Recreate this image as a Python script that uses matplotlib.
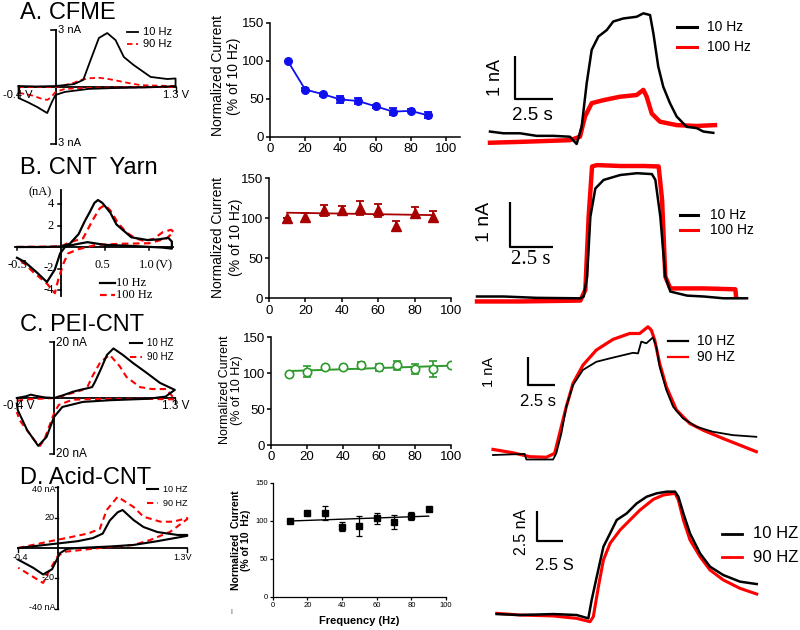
import numpy as np
import matplotlib
matplotlib.use("Agg")
import matplotlib.pyplot as plt
from matplotlib.lines import Line2D

plt.rcParams["font.family"] = ["Liberation Sans", "DejaVu Sans"]

# ---- cyclic voltammograms (V, nA), forward sweep then return sweep ----
cv_a_10 = [(-0.4, 0.05), (-0.2, 0.03), (0.0, 0.05), (0.2, 0.15), (0.3, 0.37), (0.38, 1.42),
           (0.47, 2.58), (0.56, 2.84), (0.65, 2.47), (0.74, 1.58), (0.845, 1.16), (1.03, 0.53),
           (1.21, 0.42), (1.3, 0.45), (1.3, 0.05), (1.0, -0.02), (0.6, -0.06), (0.36, -0.1),
           (0.1, -0.26), (0.0, -0.42), (-0.04, -0.8), (-0.09, -1.37), (-0.2, -1.05),
           (-0.3, -0.8), (-0.4, -0.58), (-0.4, 0.05)]
cv_a_90 = [(-0.4, 0.0), (0.0, 0.0), (0.1, 0.1), (0.2, 0.22), (0.27, 0.37), (0.37, 0.46),
           (0.46, 0.49), (0.55, 0.44), (0.67, 0.33), (0.8, 0.2), (0.92, 0.1), (1.1, 0.07),
           (1.3, 0.05), (1.3, 0.0), (0.8, -0.02), (0.4, -0.04), (0.1, -0.1), (0.0, -0.26),
           (-0.05, -0.55), (-0.09, -0.68), (-0.15, -0.62), (-0.25, -0.45), (-0.4, -0.3)]

cv_b_10 = [(-0.5, 0.0), (-0.2, 0.0), (0.0, 0.05), (0.1, 0.3), (0.2, 1.2), (0.27, 2.4),
           (0.33, 3.3), (0.38, 4.1), (0.42, 4.37), (0.47, 4.1), (0.56, 3.2), (0.63, 2.1),
           (0.7, 1.6), (0.8, 0.9), (0.98, 0.65), (1.1, 0.7), (1.22, 0.85), (1.26, 0.5),
           (1.26, -0.15), (1.15, -0.05), (0.8, 0.1), (0.5, 0.2), (0.3, 0.45), (0.2, 0.3),
           (0.05, 0.05), (-0.01, -0.6), (-0.07, -2.1), (-0.16, -3.26), (-0.27, -2.4),
           (-0.41, -1.4), (-0.5, -1.0)]
cv_b_100 = [(-0.5, 0.0), (0.0, 0.05), (0.1, 0.45), (0.25, 0.8), (0.36, 2.5), (0.44, 3.6),
            (0.5, 3.9), (0.56, 3.4), (0.65, 2.2), (0.75, 1.3), (0.85, 0.8), (0.95, 0.55),
            (1.05, 0.75), (1.16, 1.4), (1.25, 1.6), (1.28, 1.4), (1.2, 0.8), (1.0, 0.35),
            (0.7, 0.3), (0.4, 0.2), (0.2, -0.2), (0.08, -0.6), (0.03, -1.5), (-0.03, -3.0),
            (-0.07, -4.3), (-0.12, -3.8), (-0.16, -3.4), (-0.32, -2.3), (-0.42, -1.5),
            (-0.5, -1.0)]

cv_c_10 = [(-0.4, 0.0), (-0.3, 0.6), (-0.25, 1.2), (-0.2, 0.8), (-0.1, 0.2), (0.0, 0.0),
           (0.1, 1.0), (0.2, 2.2), (0.28, 2.9), (0.35, 3.4), (0.41, 3.9), (0.44, 5.7),
           (0.5, 10.0), (0.57, 15.4), (0.64, 17.7), (0.74, 15.4), (0.85, 12.5), (1.0, 8.9),
           (1.14, 5.4), (1.3, 2.9), (1.2, 0.5), (1.0, -0.3), (0.6, -0.8), (0.31, -1.4),
           (0.09, -3.2), (0.0, -6.8), (-0.08, -13.9), (-0.17, -17.1), (-0.29, -11.4),
           (-0.39, -4.3), (-0.4, -2.0)]
cv_c_90 = [(-0.4, -1.0), (-0.3, -0.5), (0.0, 0.0), (0.1, 0.8), (0.2, 1.8), (0.3, 2.8),
           (0.36, 4.0), (0.42, 8.2), (0.5, 12.9), (0.6, 15.4), (0.71, 11.2), (0.78, 7.5),
           (0.925, 3.9), (1.05, 3.2), (1.21, 3.2), (1.3, -0.5), (1.0, -0.3), (0.5, -0.3),
           (0.2, -0.6), (0.05, -2.5), (0.0, -5.5), (-0.05, -10.0), (-0.1, -14.5),
           (-0.15, -17.1), (-0.2, -15.5), (-0.28, -12.0), (-0.37, -7.9), (-0.4, -5.0)]

cv_d_10 = [(-0.4, 0.0), (-0.2, 1.5), (0.0, 3.0), (0.2, 4.5), (0.35, 6.5), (0.45, 9.5),
           (0.52, 18.0), (0.6, 23.5), (0.65, 25.0), (0.76, 18.4), (0.86, 13.8), (1.0, 10.5),
           (1.2, 8.6), (1.3, 8.6), (1.3, 8.0), (1.0, 4.5), (0.76, 2.0), (0.52, 1.0),
           (0.2, 0.0), (0.09, -0.6), (0.02, -3.4), (-0.06, -14.0), (-0.15, -17.4),
           (-0.25, -13.0), (-0.4, -7.7)]
cv_d_90 = [(-0.4, 0.0), (0.0, 5.5), (0.08, 6.5), (0.3, 9.5), (0.42, 12.5), (0.49, 25.0),
           (0.6, 33.7), (0.76, 27.0), (0.86, 20.6), (1.03, 17.3), (1.16, 17.3), (1.3, 19.7),
           (1.3, 19.0), (1.13, 10.7), (0.93, 5.3), (0.76, 2.0), (0.42, 0.0), (0.08, -2.4),
           (0.0, -5.0), (-0.08, -14.0), (-0.15, -23.0), (-0.25, -19.0), (-0.4, -13.0)]

# ---- normalized current vs frequency ----
freq_9 = [10, 20, 30, 40, 50, 60, 70, 80, 90]
freq_10 = [10, 20, 30, 40, 50, 60, 70, 80, 90, 100]
norm_a = [100, 62, 56, 49, 47, 40, 33, 34, 28]
err_a = [0, 2, 2, 4, 4, 2, 5, 2, 4]
norm_b = [100, 102, 110, 110, 113, 110, 91, 107, 102]
err_b = [0, 5, 7, 6, 8.7, 8, 6, 7, 7]
fit_b = [107, 104]
norm_c = [99, 102, 108, 109, 111, 108, 111, 106, 106, 111]
err_c = [0, 7.5, 0, 0, 5, 5.5, 6, 7, 11, 0]
fit_c = [103, 110.5]
norm_d = [100, 110, 110, 92, 93, 103, 98, 106, 115]
err_d = [0, 0, 8.8, 6, 13, 7, 9, 5.5, 0]
fit_d = [99.6, 106]

# ---- time traces (s, nA) ----
tr_a_10 = [(0, 0.08), (0.88, 0.04), (1.97, 0.04), (3.07, -0.02), (4.17, -0.02), (5.26, -0.04),
           (5.70, -0.21), (6.03, 0.19), (6.36, 1.20), (6.69, 1.98), (7.13, 2.29), (7.68, 2.44),
           (8.11, 2.64), (8.77, 2.71), (9.65, 2.75), (10.09, 2.83), (10.53, 2.79),
           (10.75, 2.36), (11.07, 1.59), (11.40, 1.12), (11.84, 0.74), (12.28, 0.43),
           (12.94, 0.19), (13.60, 0.16), (14.04, 0.08), (14.69, 0.05)]
tr_a_100 = [(0, -0.18), (1.97, -0.16), (5.26, -0.12), (5.92, -0.04), (6.25, 0.43),
            (6.69, 0.74), (7.46, 0.81), (8.55, 0.89), (9.65, 0.93), (10.09, 1.05),
            (10.31, 0.89), (10.64, 0.50), (11.18, 0.31), (12.28, 0.23), (13.60, 0.21),
            (14.80, 0.23)]
tr_b_10 = [(0, 0.04), (1.55, 0.04), (3.49, 0.01), (6.01, 0.0), (6.20, 0.04), (6.40, 0.48),
           (6.59, 1.81), (6.88, 2.44), (7.36, 2.63), (8.33, 2.74), (9.30, 2.78), (10.17, 2.76),
           (10.37, 2.63), (10.66, 1.81), (10.95, 0.48), (11.24, 0.15), (12.21, 0.06),
           (13.18, 0.04), (14.34, 0.0), (15.70, 0.0)]
tr_b_100 = [(0, -0.07), (2.52, -0.07), (6.01, -0.05), (6.30, 0.19), (6.49, 1.81),
            (6.69, 2.93), (6.98, 2.96), (8.33, 2.94), (9.69, 2.94), (10.56, 2.93),
            (10.76, 2.19), (10.95, 0.48), (11.24, 0.22), (13.18, 0.22), (15.02, 0.20),
            (15.06, 0.04)]
tr_c_10 = [(0, 0.06), (2.93, 0.10), (3.09, -0.10), (5.56, -0.10), (5.86, 0.12), (6.33, 0.83),
           (6.79, 1.79), (7.41, 2.56), (8.33, 3.10), (9.57, 3.39), (10.80, 3.51),
           (12.96, 3.71), (13.43, 3.69), (13.73, 4.11), (14.20, 4.05), (14.81, 4.26),
           (15.12, 3.93), (15.43, 3.21), (16.05, 2.38), (16.67, 1.79), (17.59, 1.37),
           (18.83, 1.07), (20.37, 0.89), (22.22, 0.77), (24.38, 0.71)]
tr_c_90 = [(0, 0.26), (1.85, 0.14), (3.40, 0.0), (4.94, -0.02), (5.71, 0.12), (6.17, 0.83),
           (6.79, 1.79), (7.41, 2.62), (8.33, 3.27), (9.57, 3.81), (11.11, 4.19),
           (12.65, 4.40), (13.58, 4.40), (14.35, 4.64), (14.66, 4.52), (14.97, 4.17),
           (15.43, 3.33), (16.05, 2.50), (16.98, 1.67), (18.21, 1.19), (19.44, 0.95),
           (21.30, 0.65), (24.38, 0.18)]
tr_d_10 = [(0, 0.22), (2.24, 0.14), (5.45, 0.22), (7.69, 0.14), (8.81, -0.14), (9.13, 1.39),
           (9.62, 3.33), (10.26, 5.83), (10.90, 6.94), (11.54, 8.06), (12.50, 8.61),
           (13.46, 9.44), (14.42, 10.0), (15.38, 10.28), (16.35, 10.42), (17.15, 10.42),
           (17.47, 10.0), (17.95, 8.61), (18.59, 6.94), (19.55, 5.28), (20.51, 4.17),
           (21.79, 3.47), (23.40, 2.92), (25.00, 2.72)]
tr_d_90 = [(0, 0.28), (2.24, 0.14), (5.45, 0.06), (7.69, -0.14), (8.97, -0.42), (9.29, 0.0),
           (9.78, 2.50), (10.26, 4.72), (10.90, 6.11), (11.86, 7.22), (12.82, 8.06),
           (13.78, 8.89), (15.06, 9.78), (16.03, 10.14), (17.15, 10.28), (17.47, 9.72),
           (17.95, 8.06), (18.59, 6.39), (19.55, 5.0), (20.51, 3.89), (21.79, 3.06),
           (23.40, 2.36), (25.00, 1.89)]

W, H = 800, 630
fig = plt.figure(figsize=(8, 6.3), dpi=100)
RED = "#ff0000"


def fx(x):
    return x / W


def fy(y):
    return 1 - y / H


def ptext(x, y, s, **kw):
    kw.setdefault("ha", "left")
    kw.setdefault("va", "center")
    fig.text(fx(x), fy(y), s, **kw)


def pline(xs, ys, **kw):
    fig.add_artist(Line2D([fx(x) for x in xs], [fy(y) for y in ys],
                          transform=fig.transFigure, **kw))


def px_axes(l, t, r, b):
    return fig.add_axes([fx(l), fy(b), (r - l) / W, (b - t) / H])


def mapped_axes(box, origin, scale):
    # box and origin in pixels, scale = pixels per data unit
    l, t, r, b = box
    ox, oy = origin
    sx, sy = scale
    ax = px_axes(l, t, r, b)
    ax.set_xlim((l - ox) / sx, (r - ox) / sx)
    ax.set_ylim((oy - b) / sy, (oy - t) / sy)
    ax.axis("off")
    return ax


def draw_cv(ax, solid, dashed, vlim, ilim, lw=1.4):
    ax.plot(vlim, [0, 0], color="black", lw=1.3, clip_on=False)
    ax.plot([0, 0], ilim, color="black", lw=1.3, clip_on=False)
    v, i = np.array(dashed).T
    ax.plot(v, i, color=RED, lw=lw, ls=(0, (3, 2)), clip_on=False)
    v, i = np.array(solid).T
    ax.plot(v, i, color="black", lw=lw, clip_on=False)


def draw_trace(ax, black, red, lw_b, lw_r, corner, bar_h):
    t, i = np.array(red).T
    ax.plot(t, i, color=RED, lw=lw_r, clip_on=False)
    t, i = np.array(black).T
    ax.plot(t, i, color="black", lw=lw_b, clip_on=False)
    t0, i0 = corner
    ax.plot([t0, t0, t0 + 2.5], [i0 + bar_h, i0, i0], color="black", lw=1.6,
            solid_capstyle="butt")


def legend_pair(x0, x1, y1, y2, xt, lab1, lab2, size, dashed=False, lw=1.6, **kw):
    pline([x0, x1], [y1, y1], color="black", lw=lw)
    pline([x0, x1], [y2, y2], color=RED, lw=lw, ls=(0, (3, 2)) if dashed else "-")
    ptext(xt, y1, lab1, fontsize=size, **kw)
    ptext(xt, y2, lab2, fontsize=size, **kw)


def style_norm(ax, xmax, size, lw=1.1):
    for s in ["top", "right"]:
        ax.spines[s].set_visible(False)
    for s in ["left", "bottom"]:
        ax.spines[s].set_linewidth(lw)
    ax.set_xlim(0, xmax)
    ax.set_ylim(0, 150)
    ax.set_xticks([0, 20, 40, 60, 80, 100])
    ax.set_yticks([0, 50, 100, 150])
    ax.tick_params(direction="out", length=3, width=lw, labelsize=size, pad=1.5)
    ax.patch.set_alpha(0)


# ---------------- titles ----------------
for y, s in [(13, "A. CFME"), (168, "B. CNT  Yarn"), (325, "C. PEI-CNT"), (478, "D. Acid-CNT")]:
    ptext(20, y, s, fontsize=17)

# ---------------- CV A ----------------
ax = mapped_axes((0, 25, 195, 150), (55.5, 87), (92.35, 19))
draw_cv(ax, cv_a_10, cv_a_90, [-0.4, 1.3], [-3, 3], lw=1.3)
for iv in [3, -3]:
    ax.plot([-0.045, 0], [iv, iv], color="black", lw=1.2)
for v in [-0.4, 1.3]:
    ax.plot([v, v], [0, -0.25], color="black", lw=1.0)
ptext(58, 30, "3 nA", fontsize=8)
ptext(58, 143, "3 nA", fontsize=8)
ptext(18, 95, "-0.4 V", fontsize=8, ha="center")
ptext(176, 95, "1.3 V", fontsize=8, ha="center")
legend_pair(127, 138, 32, 44, 143, "10 Hz", "90 Hz", 8, dashed=True, lw=1.3)

# ---------------- CV B ----------------
ax = mapped_axes((0, 180, 195, 300), (61, 247), (88, 10.75))
draw_cv(ax, cv_b_10, cv_b_100, [-0.52, 1.27], [-4.6, 5.3], lw=1.6)
for iv in [4, 2, -2, -4]:
    ax.plot([-0.035, 0], [iv, iv], color="black", lw=1.1)
for v in [-0.5, 0.5, 1.0]:
    ax.plot([v, v], [0, -0.3], color="black", lw=1.1)
serif = dict(family=["Liberation Serif", "DejaVu Serif"], fontsize=9)
ptext(40, 192, "(nA)", ha="center", **serif)
ptext(54, 204, "4", ha="right", **serif)
ptext(54, 226, "2", ha="right", **serif)
ptext(54, 268, "-2", ha="right", **serif)
ptext(54, 290, "-4", ha="right", **serif)
ptext(17, 265, "-0.5", ha="center", **serif)
ptext(102, 265, "0.5", ha="center", **serif)
ptext(147, 265, "1.0", ha="center", **serif)
ptext(164, 265, "(V)", ha="center", **serif)
legend_pair(100, 115, 283, 295, 116, "10 Hz", "100 Hz", 9, dashed=True, lw=1.6,
            family=["Liberation Serif", "DejaVu Serif"])

# ---------------- CV C ----------------
ax = mapped_axes((0, 335, 195, 460), (54, 398), (92.94, 2.8))
draw_cv(ax, cv_c_10, cv_c_90, [-0.4, 1.3], [-20, 20], lw=1.5)
for iv in [20, -20]:
    ax.plot([-0.04, 0], [iv, iv], color="black", lw=1.1)
for v in [-0.4, 1.3]:
    ax.plot([v, v], [0, -1.8], color="black", lw=1.0)
ptext(56, 343, "20 nA", fontsize=8.5)
ptext(56, 454, "20 nA", fontsize=8.5)
ptext(19, 406, "-0.4 V", fontsize=8.5, ha="center")
ptext(176, 406, "1.3 V", fontsize=8.5, ha="center")
legend_pair(130, 142, 343, 357, 147, "10 HZ", "90 HZ", 7, dashed=True, lw=1.5)

# ---------------- CV D ----------------
ax = mapped_axes((0, 485, 195, 615), (58, 548), (99.4, 1.52))
draw_cv(ax, cv_d_10, cv_d_90, [-0.4, 1.3], [-40, 40], lw=1.5)
for iv in [40, 20, -20, -40]:
    ax.plot([-0.03, 0], [iv, iv], color="black", lw=1.0)
for v in [-0.4, 1.3]:
    ax.plot([v, v], [0, -2.5], color="black", lw=1.0)
for y, s in [(489, "40 nA"), (517, "20"), (578, "-20"), (607, "-40 nA")]:
    ptext(55, y, s, fontsize=6.5, ha="right")
ptext(20, 558, "-0.4", fontsize=6.5, ha="center")
ptext(183, 558, "1.3V", fontsize=6.5, ha="center")
legend_pair(147, 158, 489, 503, 163, "10 HZ", "90 HZ", 6.5, dashed=True, lw=1.5)

# ---------------- normalized current panels ----------------
ax = px_axes(270, 22.7, 460, 136.7)
ax.errorbar(freq_9, norm_a, yerr=err_a, color="#1010ee", marker="o", ms=5.5, lw=1.3,
            capsize=3, elinewidth=1.3, capthick=1.3)
style_norm(ax, 108, 9.5)
ptext(226, 76, "Normalized Current\n(% of 10 Hz)", fontsize=10, rotation=90,
      ha="center", linespacing=1.25)

ax = px_axes(269, 178.3, 451, 298.3)
ax.errorbar(freq_9, norm_b, yerr=err_b, color="#a80000", marker="^", ms=6.5, ls="none",
            capsize=3, elinewidth=1.3, capthick=1.3)
ax.plot([freq_9[0], freq_9[-1]], fit_b, color="#a80000", lw=1.3)
style_norm(ax, 100, 9.5)
ptext(227, 237, "Normalized Current\n(% of 10 Hz)", fontsize=10, rotation=90,
      ha="center", linespacing=1.3)

ax = px_axes(271, 337.3, 451, 445)
ax.errorbar(freq_10, norm_c, yerr=err_c, color="#2e9a2e", marker="o", ms=6, ls="none",
            mfc="white", mew=1.2, capsize=3, elinewidth=1.2, capthick=1.2)
ax.plot([freq_10[0], freq_10[-1]], fit_c, color="#2e9a2e", lw=1.4)
style_norm(ax, 100, 9.5)
ptext(231, 390, "Normalized Current\n(% of 10 Hz)", fontsize=9, rotation=90,
      ha="center", linespacing=1.1)

ax = px_axes(272.7, 482.7, 446, 596.7)
ax.errorbar(freq_9, norm_d, yerr=err_d, color="black", marker="s", ms=4.5, ls="none",
            capsize=2, elinewidth=0.9, capthick=0.9)
ax.plot([freq_9[0], freq_9[-1]], fit_d, color="black", lw=1.0)
style_norm(ax, 100, 5.5, lw=0.9)
ax.tick_params(length=2)
ptext(241, 540, "Normalized  Current\n(% of 10  Hz)", fontsize=7.5, rotation=90,
      ha="center", fontweight="bold", linespacing=1.1)
ptext(359, 621, "Frequency (Hz)", fontsize=8, fontweight="bold", ha="center")
ptext(231, 613, "I", fontsize=5, ha="center", color="#444444")

# ---------------- time traces ----------------
ax = mapped_axes((480, 0, 760, 150), (490, 135), (15.2, 43))
draw_trace(ax, tr_a_10, tr_a_100, 1.8, 3.2, (1.645, 0.837), 1)
ptext(495, 78, "1 nA", fontsize=13, rotation=90, ha="center")
ptext(532, 115, "2.5 s", fontsize=13.5, ha="center")
legend_pair(677, 697, 27, 47, 707, "10 Hz", "100 Hz", 10, lw=2.2)

ax = mapped_axes((470, 160, 760, 310), (477, 298.3), (17.2, 45))
draw_trace(ax, tr_b_10, tr_b_100, 1.8, 3.2, (1.92, 1.14), 1)
ptext(485, 222, "1 nA", fontsize=14, rotation=90, ha="center")
ptext(531, 259, "2.5 s", fontsize=15, ha="center", family=["Liberation Serif", "DejaVu Serif"])
legend_pair(680, 698, 215, 230, 710, "10 Hz", "100 Hz", 10, lw=2.2)

ax = mapped_axes((470, 320, 800, 460), (493, 456.7), (10.8, 28))
draw_trace(ax, tr_c_10, tr_c_90, 1.3, 2.3, (3.24, 2.56), 1)
ptext(489, 372, "1 nA", fontsize=10.5, rotation=90, ha="center")
ptext(538, 402, "2.5 s", fontsize=12, ha="center")
legend_pair(668, 688, 341, 357, 697, "10 HZ", "90 HZ", 10, lw=1.6)

ax = mapped_axes((470, 480, 800, 630), (496.7, 616.7), (10.4, 12))
draw_trace(ax, tr_d_10, tr_d_90, 1.8, 2.2, (3.875, 6.31), 2.5)
ptext(521, 532, "2.5 nA", fontsize=11.5, rotation=90, ha="center")
ptext(554, 566, "2.5 S", fontsize=12, ha="center")
legend_pair(722, 742, 534, 557, 753, "10 HZ", "90 HZ", 12, lw=2.0)

fig.savefig("out.png", dpi=100)
